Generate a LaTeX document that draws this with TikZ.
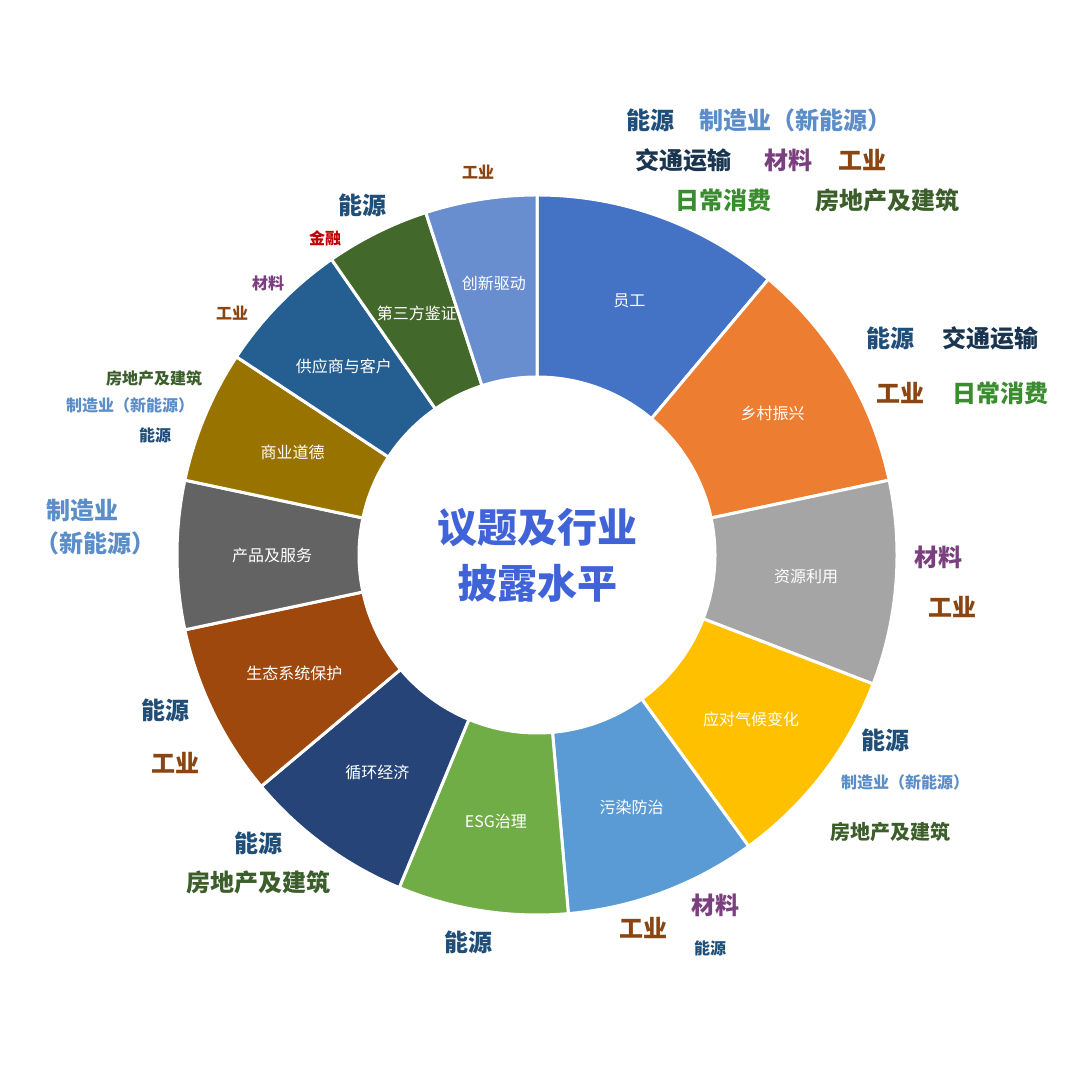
\documentclass[tikz,border=0pt]{standalone}
\usepackage{fontspec}
\usetikzlibrary{calc}
\setmainfont{Noto Sans CJK SC}
\begin{document}
\begin{tikzpicture}[x=0.5pt,y=0.5pt,
  seg/.style={draw=white,line width=1.5pt},
  inl/.style={text=white,font=\fontsize{8}{9}\selectfont},
  big/.style={font=\fontsize{12}{14}\selectfont\bfseries},
  sml/.style={font=\fontsize{8}{9}\selectfont\bfseries},
  mid/.style={font=\fontsize{10}{12}\selectfont\bfseries}]
\definecolor{cEn}{HTML}{1F4E79}
\definecolor{cMf}{HTML}{5B8DC8}
\definecolor{cTr}{HTML}{1A3550}
\definecolor{cMa}{HTML}{7B3F7F}
\definecolor{cIn}{HTML}{8B4513}
\definecolor{cDc}{HTML}{3A8D2E}
\definecolor{cRe}{HTML}{3B5E2B}
\definecolor{cFi}{HTML}{C00000}
\useasboundingbox (0,0) rectangle (1080,1080);
\fill[white] (0,0) rectangle (1080,1080);
\coordinate (c) at (537,525);
\def\ro{360}\def\ri{178}
\foreach \a/\b/\col/\txt/\r in {
 90/50/4472C4/员工/270,
 50/12/ED7D31/乡村振兴/275,
 12/-21/A5A5A5/资源利用/270,
 -21/-54/FFC000/应对气候变化/270,
 -54/-85/5B9BD5/污染防治/270,
 -85/-112.5/70AD47/ESG治理/270,
 -112.5/-140/264478/循环经济/270,
 -140/-168/9E480E/生态系统保护/270,
 -168/-192/636363/产品及服务/265,
 -192/-213.4/997300/商业道德/265,
 -213.4/-235.2/255E91/供应商与客户/270,
 -235.2/-252/43682B/第三方鉴证/270,
 -252/-270/698ED0/创新驱动/275}{
 \definecolor{sc}{HTML}{\col}
 \fill[sc,seg] ($(c)+(\a:\ro)$) arc[start angle=\a,end angle=\b,radius=\ro]
   -- ($(c)+(\b:\ri)$) arc[start angle=\b,end angle=\a,radius=\ri] -- cycle;
 \node[inl] at ($(c)+({(\a+\b)/2}:\r)$) {\txt};
}
\node[text=cMf!70!blue,font=\fontsize{20}{28}\selectfont\bfseries,align=center] (ctr) at (c) {议题及行业\\披露水平};
% top right
\node[big,text=cEn] (t1) at (650,960) {能源};
\node[big,text=cMf] (t2) at (795,960) {制造业（新能源）};
\node[big,text=cTr] (t3) at (683,920) {交通运输};
\node[big,text=cMa] (t4) at (788,920) {材料};
\node[big,text=cIn] (t5) at (862,920) {工业};
\node[big,text=cDc] (t6) at (723,880) {日常消费};
\node[big,text=cRe] (t7) at (887,880) {房地产及建筑};
% top left
\node[sml,text=cIn] (u1) at (478,908) {工业};
\node[big,text=cEn] (u2) at (362,875) {能源};
\node[sml,text=cFi] (u3) at (325,842) {金融};
\node[sml,text=cMa] (u4) at (268,797) {材料};
\node[sml,text=cIn] (u5) at (232,767) {工业};
\node[sml,text=cRe] (u6) at (154,702) {房地产及建筑};
\node[sml,text=cMf] (u7) at (130,675) {制造业（新能源）};
\node[sml,text=cEn] (u8) at (155,645) {能源};
\node[big,text=cMf] (u9) at (82,570) {制造业};
\node[big,text=cMf] (u10) at (95,537) {（新能源）};
% bottom left
\node[big,text=cEn] (b1) at (165,370) {能源};
\node[big,text=cIn] (b2) at (175,317) {工业};
\node[big,text=cEn] (b3) at (258,237) {能源};
\node[big,text=cRe] (b4) at (258,198) {房地产及建筑};
\node[big,text=cEn] (b5) at (468,138) {能源};
% bottom right
\node[big,text=cIn] (r1) at (643,152) {工业};
\node[big,text=cMa] (r2) at (715,175) {材料};
\node[sml,text=cEn] (r3) at (710,132) {能源};
\node[big,text=cEn] (r4) at (885,340) {能源};
\node[sml,text=cMf] (r5) at (905,298) {制造业（新能源）};
\node[mid,text=cRe] (r6) at (890,248) {房地产及建筑};
\node[big,text=cMa] (r7) at (938,523) {材料};
\node[big,text=cIn] (r8) at (952,473) {工业};
\node[big,text=cEn] (r9) at (890,742) {能源};
\node[big,text=cTr] (r10) at (990,742) {交通运输};
\node[big,text=cIn] (r11) at (900,687) {工业};
\node[big,text=cDc] (r12) at (1000,687) {日常消费};
\end{tikzpicture}
\end{document}
